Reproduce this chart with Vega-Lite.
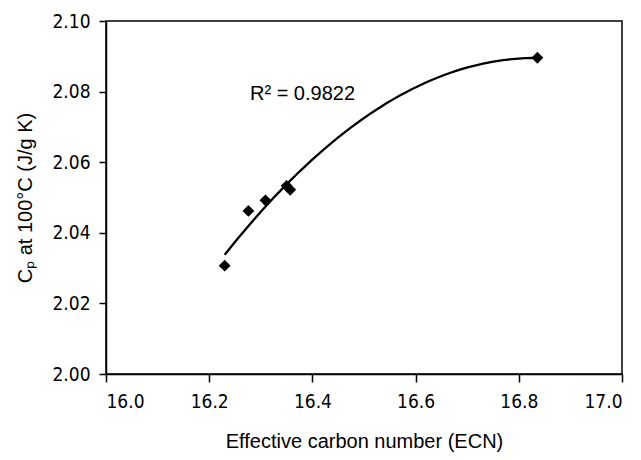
{
  "$schema": "https://vega.github.io/schema/vega-lite/v6.json",
  "width": 516,
  "height": 353,
  "autosize": {"type": "none"},
  "padding": {"left": 106, "top": 21, "right": 19, "bottom": 86},
  "background": "white",
  "config": {
    "view": {"stroke": "black", "strokeWidth": 1.5},
    "axis": {
      "grid": false,
      "domainColor": "black",
      "domainWidth": 1.5,
      "tickColor": "black",
      "tickWidth": 1.5,
      "labelColor": "black",
      "titleColor": "black",
      "labelFont": "DejaVu Sans Condensed",
      "labelFontSize": 19,
      "titleFont": "Liberation Sans, Arial, sans-serif",
      "titleFontSize": 20,
      "titleFontWeight": "normal"
    }
  },
  "datasets": {
    "pts": [
      {"ecn": 16.230, "cp": 2.0307},
      {"ecn": 16.276, "cp": 2.0462},
      {"ecn": 16.309, "cp": 2.0492},
      {"ecn": 16.350, "cp": 2.0533},
      {"ecn": 16.357, "cp": 2.0522},
      {"ecn": 16.836, "cp": 2.0896}
    ],
    "notes": [
      {"ecn": 16.279, "cp": 2.0776, "label": "R", "style": "italic"},
      {"ecn": 16.307, "cp": 2.0776, "label": "² = 0.9822", "style": "normal"}
    ]
  },
  "layer": [
    {
      "data": {"name": "pts"},
      "transform": [{"regression": "cp", "on": "ecn", "method": "poly", "order": 2}],
      "mark": {"type": "line", "color": "black", "strokeWidth": 2.3},
      "encoding": {
        "x": {"field": "ecn", "type": "quantitative", "scale": {"domain": [16.0, 17.0], "nice": false, "zero": false},
          "axis": {"values": [16.0, 16.2, 16.4, 16.6, 16.8, 17.0], "format": ".1f", "tickSize": 8, "labelPadding": 10, "labelFontSize": 19, "title": "Effective carbon number (ECN)", "titlePadding": 20}},
        "y": {"field": "cp", "type": "quantitative", "scale": {"domain": [2.0, 2.1], "nice": false, "zero": false},
          "axis": {"values": [2.0, 2.02, 2.04, 2.06, 2.08, 2.1], "format": ".2f", "tickSize": 7, "labelPadding": 9, "labelFontSize": 19, "title": "Cₚ at 100°C (J/g K)", "titlePadding": 16}}
      }
    },
    {
      "data": {"name": "pts"},
      "mark": {"type": "point", "shape": "diamond", "filled": true, "color": "black", "opacity": 1, "size": 140},
      "encoding": {
        "x": {"field": "ecn", "type": "quantitative"},
        "y": {"field": "cp", "type": "quantitative"}
      }
    },
    {
      "data": {"name": "notes"},
      "mark": {"type": "text", "align": "left", "baseline": "alphabetic", "fontSize": 20, "font": "Liberation Sans, Arial, sans-serif", "color": "black"},
      "encoding": {
        "x": {"field": "ecn", "type": "quantitative"},
        "y": {"field": "cp", "type": "quantitative"},
        "text": {"field": "label"},
        "fontStyle": {"field": "style", "type": "nominal", "scale": null}
      }
    }
  ]
}
